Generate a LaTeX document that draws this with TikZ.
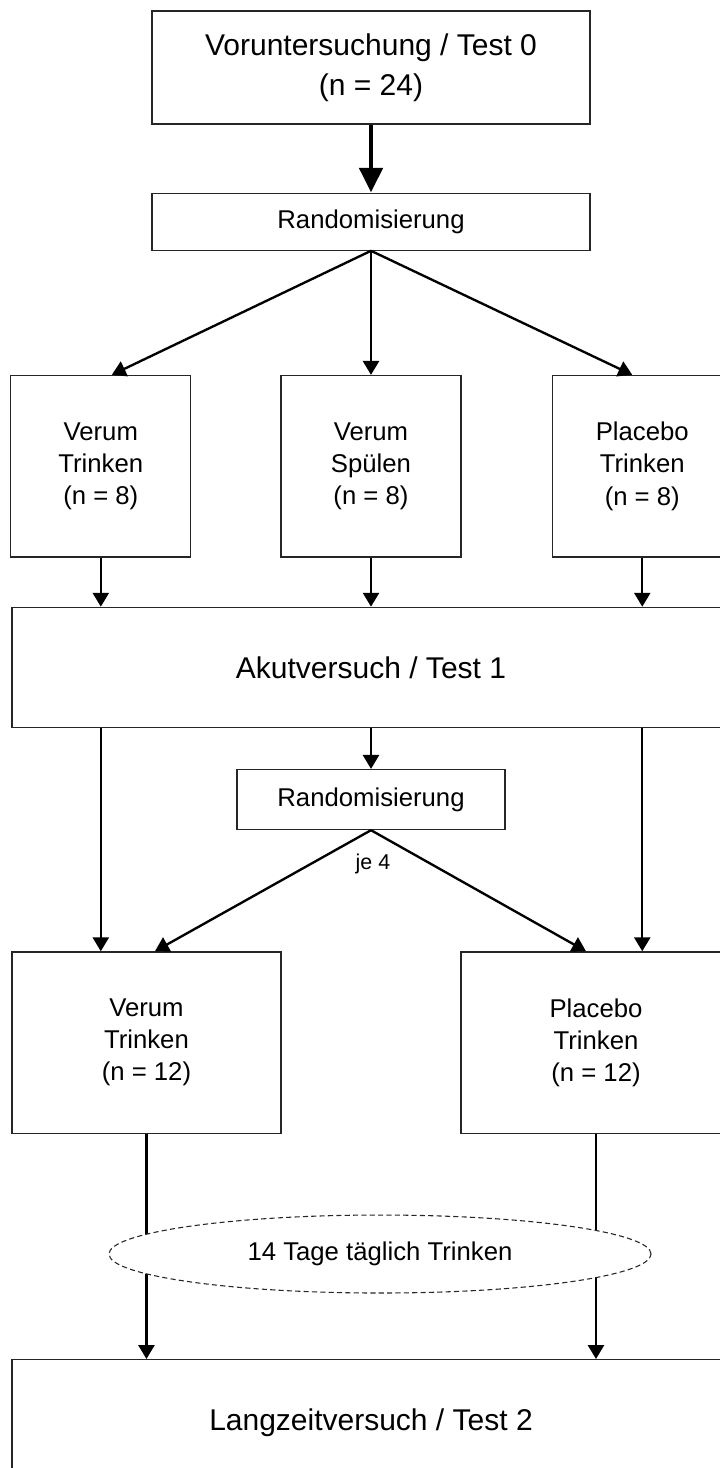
\documentclass[tikz,border=0pt]{standalone}
\usepackage{fontspec}
\setmainfont{Liberation Sans}
\usepackage{tikz}
\usetikzlibrary{%
  positioning,calc,arrows.meta,shapes.geometric}
\tikzstyle{line} = [draw, -{Triangle[length=6.5pt,width=7.5pt]}, line width=1.1pt, fill=none]
\tikzstyle{thick line} = [draw, -{Triangle[length=11.5pt,width=10.7pt]}, line width=2.3pt, fill=none]

\begin{document}
\begin{tikzpicture}[
    x=0.4667pt, y=-0.4667pt,
    box/.style={
      draw=black!85,
      line width=0.6pt,
      fill=white,
      align=center,
      inner sep=0pt
    },
    testbox/.style={
      box,
      minimum width=335pt,
      minimum height=56pt,
      font=\fontsize{14}{18.7}\selectfont
    },
    randbox/.style={
      box,
      minimum width=204.4pt,
      minimum height=26.6pt,
      font=\fontsize{12}{15}\selectfont
    },
    group/.style={
      box,
      minimum width=84pt,
      minimum height=84.7pt,
      font=\fontsize{12}{15}\selectfont
    },
    note/.style={
      inner sep=0pt,
      font=\fontsize{10}{12}\selectfont
    },
    phase/.style={
      ellipse,
      draw=black!85,
      dashed,
      dash pattern=on 2.4pt off 1.5pt,
      line width=0.5pt,
      fill=white,
      inner sep=0pt,
      minimum width=253pt,
      minimum height=36.4pt,
      font=\fontsize{12}{15}\selectfont
    }
  ]
  \clip (0,0) rectangle (720,1468);

  \node[testbox,minimum width=204.4pt,minimum height=52.7pt] (pre) at (371,67.5) {Voruntersuchung / Test 0\\(n = 24)};
  \node[randbox,below=31.7pt of pre] (rand1) {Randomisierung};

  \node[group,below=57.9pt of rand1] (vs1) {Verum\\Spülen\\(n = 8)};
  \node[group,left=41.5pt of vs1] (vt1) {Verum\\Trinken\\(n = 8)};
  \node[group,right=42pt of vs1] (pt1) {Placebo\\Trinken\\(n = 8)};

  \node[testbox,below=22.9pt of vs1] (akut) {Akutversuch / Test 1};

  \node[randbox,minimum width=125pt,minimum height=28pt,below=19.1pt of akut] (rand2) {Randomisierung};
  \node[note] (je) at ($(rand2.south)+(2,34)$) {je 4};

  \node[group,minimum width=125.5pt,below=56.5pt of rand2,xshift=-104.8pt] (vt2) {Verum\\Trinken\\(n = 12)};
  \node[group,minimum width=126pt,below=56.5pt of rand2,xshift=105pt] (pt2) {Placebo\\Trinken\\(n = 12)};

  \coordinate (langtop) at (vt2.south -| akut);
  \node[testbox,minimum height=58.8pt,below=105pt of langtop] (lang) {Langzeitversuch / Test 2};

  \draw[thick line] (pre) -- (rand1);

  \draw[line] (rand1.south) -- ($(vt1.north)+(11,0)$);
  \draw[line] (rand1.south) -- (vs1);
  \draw[line] (rand1.south) -- ($(pt1.north)+(-10,0)$);

  \foreach \g in {vt1,vs1,pt1}
    \draw[line] (\g) -- (\g |- akut.north);

  \draw[line] (vt1 |- akut.south) -- (vt1 |- vt2.north);
  \draw[line] (pt1 |- akut.south) -- (pt1 |- pt2.north);
  \draw[line] (akut) -- (rand2);

  \draw[line] (rand2.south) -- ($(vt2.north)+(8.5,0)$);
  \draw[line] (rand2.south) -- ($(pt2.north)+(-10,0)$);

  \draw[line] (vt2) -- (vt2 |- lang.north);
  \draw[line] (pt2) -- (pt2 |- lang.north);

  % drawn last so that it covers the two lines
  \node[phase] (daily) at ($(langtop)+(9,120)$) {14 Tage täglich Trinken};

\end{tikzpicture}
\end{document}
